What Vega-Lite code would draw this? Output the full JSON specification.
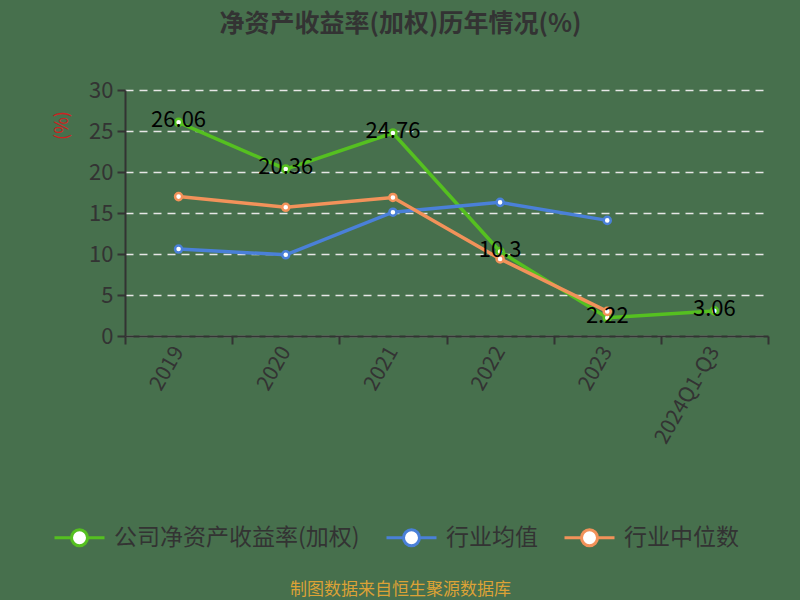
{
  "$schema": "https://vega.github.io/schema/vega-lite/v6.json",
  "width": 643,
  "height": 246,
  "autosize": "none",
  "padding": {"left": 125, "top": 90, "right": 32, "bottom": 264},
  "background": "#47704d",
  "config": {"view": {"stroke": null}},
  "title": {
    "text": "净资产收益率(加权)历年情况(%)",
    "font": "Noto Sans CJK SC",
    "fontSize": 25,
    "fontWeight": "bold",
    "color": "#333333",
    "anchor": "middle",
    "dx": -46,
    "offset": 42
  },
  "data": {
    "values": [
      {"year": "2019", "series": "公司净资产收益率(加权)", "value": 26.06},
      {"year": "2020", "series": "公司净资产收益率(加权)", "value": 20.36},
      {"year": "2021", "series": "公司净资产收益率(加权)", "value": 24.76},
      {"year": "2022", "series": "公司净资产收益率(加权)", "value": 10.3},
      {"year": "2023", "series": "公司净资产收益率(加权)", "value": 2.22},
      {"year": "2024Q1-Q3", "series": "公司净资产收益率(加权)", "value": 3.06},
      {"year": "2019", "series": "行业均值", "value": 10.6},
      {"year": "2020", "series": "行业均值", "value": 9.9},
      {"year": "2021", "series": "行业均值", "value": 15.1},
      {"year": "2022", "series": "行业均值", "value": 16.3},
      {"year": "2023", "series": "行业均值", "value": 14.1},
      {"year": "2019", "series": "行业中位数", "value": 17.0},
      {"year": "2020", "series": "行业中位数", "value": 15.7},
      {"year": "2021", "series": "行业中位数", "value": 16.9},
      {"year": "2022", "series": "行业中位数", "value": 9.4},
      {"year": "2023", "series": "行业中位数", "value": 3.0}
    ]
  },
  "encoding": {
    "x": {
      "field": "year",
      "type": "ordinal",
      "bandPosition": 0.5,
      "scale": {"type": "band", "paddingInner": 0, "paddingOuter": 0},
      "axis": {
        "title": "制图数据来自恒生聚源数据库",
        "titleFont": "Noto Sans CJK SC",
        "titleFontSize": 17,
        "titleFontWeight": "normal",
        "titleColor": "#dca236",
        "titleX": 275,
        "titleY": 253,
        "titleAnchor": "middle",
        "titleBaseline": "middle",
        "labelAngle": -60,
        "labelFont": "Noto Sans CJK SC",
        "labelFontSize": 21,
        "labelColor": "#333333",
        "labelPadding": 4,
        "tickBand": "extent",
        "tickSize": 8,
        "tickColor": "#333333",
        "tickWidth": 2,
        "domainColor": "#333333",
        "domainWidth": 2,
        "grid": false
      }
    },
    "y": {
      "field": "value",
      "type": "quantitative",
      "scale": {"domain": [0, 30]},
      "axis": {
        "title": "(%)",
        "titleFont": "Noto Sans CJK SC",
        "titleFontSize": 18,
        "titleFontWeight": "normal",
        "titleColor": "#cc2222",
        "titleAngle": -90,
        "titleX": -63,
        "titleY": 35,
        "titleAlign": "center",
        "titleBaseline": "middle",
        "values": [0, 5, 10, 15, 20, 25, 30],
        "labelFont": "Noto Sans CJK SC",
        "labelFontSize": 22,
        "labelColor": "#333333",
        "labelPadding": 4,
        "tickSize": 8,
        "tickColor": "#333333",
        "tickWidth": 2,
        "domainColor": "#333333",
        "domainWidth": 2,
        "grid": true,
        "gridColor": "#e6e6e6",
        "gridDash": [8, 6],
        "gridWidth": 1.5
      }
    },
    "color": {
      "field": "series",
      "type": "nominal",
      "scale": {
        "domain": ["公司净资产收益率(加权)", "行业均值", "行业中位数"],
        "range": ["#55c020", "#4a80d8", "#f2925a"]
      },
      "legend": {
        "title": null,
        "orient": "none",
        "direction": "horizontal",
        "legendX": -72,
        "legendY": 421,
        "labelFont": "Noto Sans CJK SC",
        "labelFontSize": 23,
        "labelColor": "#333333",
        "labelLimit": 400,
        "labelOffset": 8,
        "columnPadding": 20,
        "symbolType": "M-1,0L-0.32,0M0.32,0L1,0M0.32,0A0.32,0.32,0,1,1,-0.32,0A0.32,0.32,0,1,1,0.32,0Z",
        "symbolSize": 2500,
        "symbolStrokeWidth": 3,
        "symbolOffset": 0,
        "encode": {"symbols": {"update": {"fill": {"value": "#ffffff"}, "opacity": {"value": 1}}}}
      }
    }
  },
  "layer": [
    {
      "mark": {"type": "line", "strokeWidth": 3.5}
    },
    {
      "mark": {"type": "point", "filled": false, "fill": "#ffffff", "size": 50, "strokeWidth": 2.5, "opacity": 1}
    },
    {
      "transform": [{"filter": "datum.series === '公司净资产收益率(加权)'"}],
      "mark": {"type": "text", "font": "Noto Sans CJK SC", "fontSize": 22, "dy": -2, "baseline": "middle", "align": "center"},
      "encoding": {
        "text": {"field": "value", "type": "quantitative"},
        "color": {"value": "#000000"}
      }
    }
  ]
}
